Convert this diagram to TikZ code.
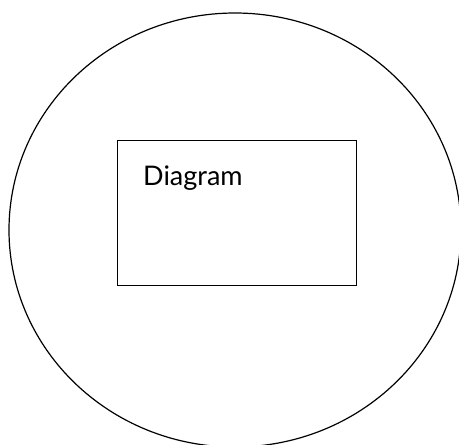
\documentclass[tikz,border=0pt]{standalone}
\usepackage{fontspec}
\newfontfamily\labelfont{Lato}
\usetikzlibrary{positioning}

\begin{document}
\begin{tikzpicture}[
  x=1pt, y=-1pt,
  outline/.style={draw=black, line width=1.2pt},
  frame/.style={draw=black, line width=1.2pt, minimum width=239pt, minimum height=145pt,
    inner sep=0pt, anchor=north west},
  caption/.style={font=\labelfont\fontsize{27}{32}\selectfont, inner sep=0pt, anchor=base west}
]
\clip (0,0) rectangle (459,445);
\fill[white] (0,0) rectangle (459,445);
\draw[outline] (235,230) ellipse [x radius=226, y radius=217];
\node[frame] (box) at (117,140) {};
\node[caption] (title) at (143,185) {Diagram};
\end{tikzpicture}
\end{document}
